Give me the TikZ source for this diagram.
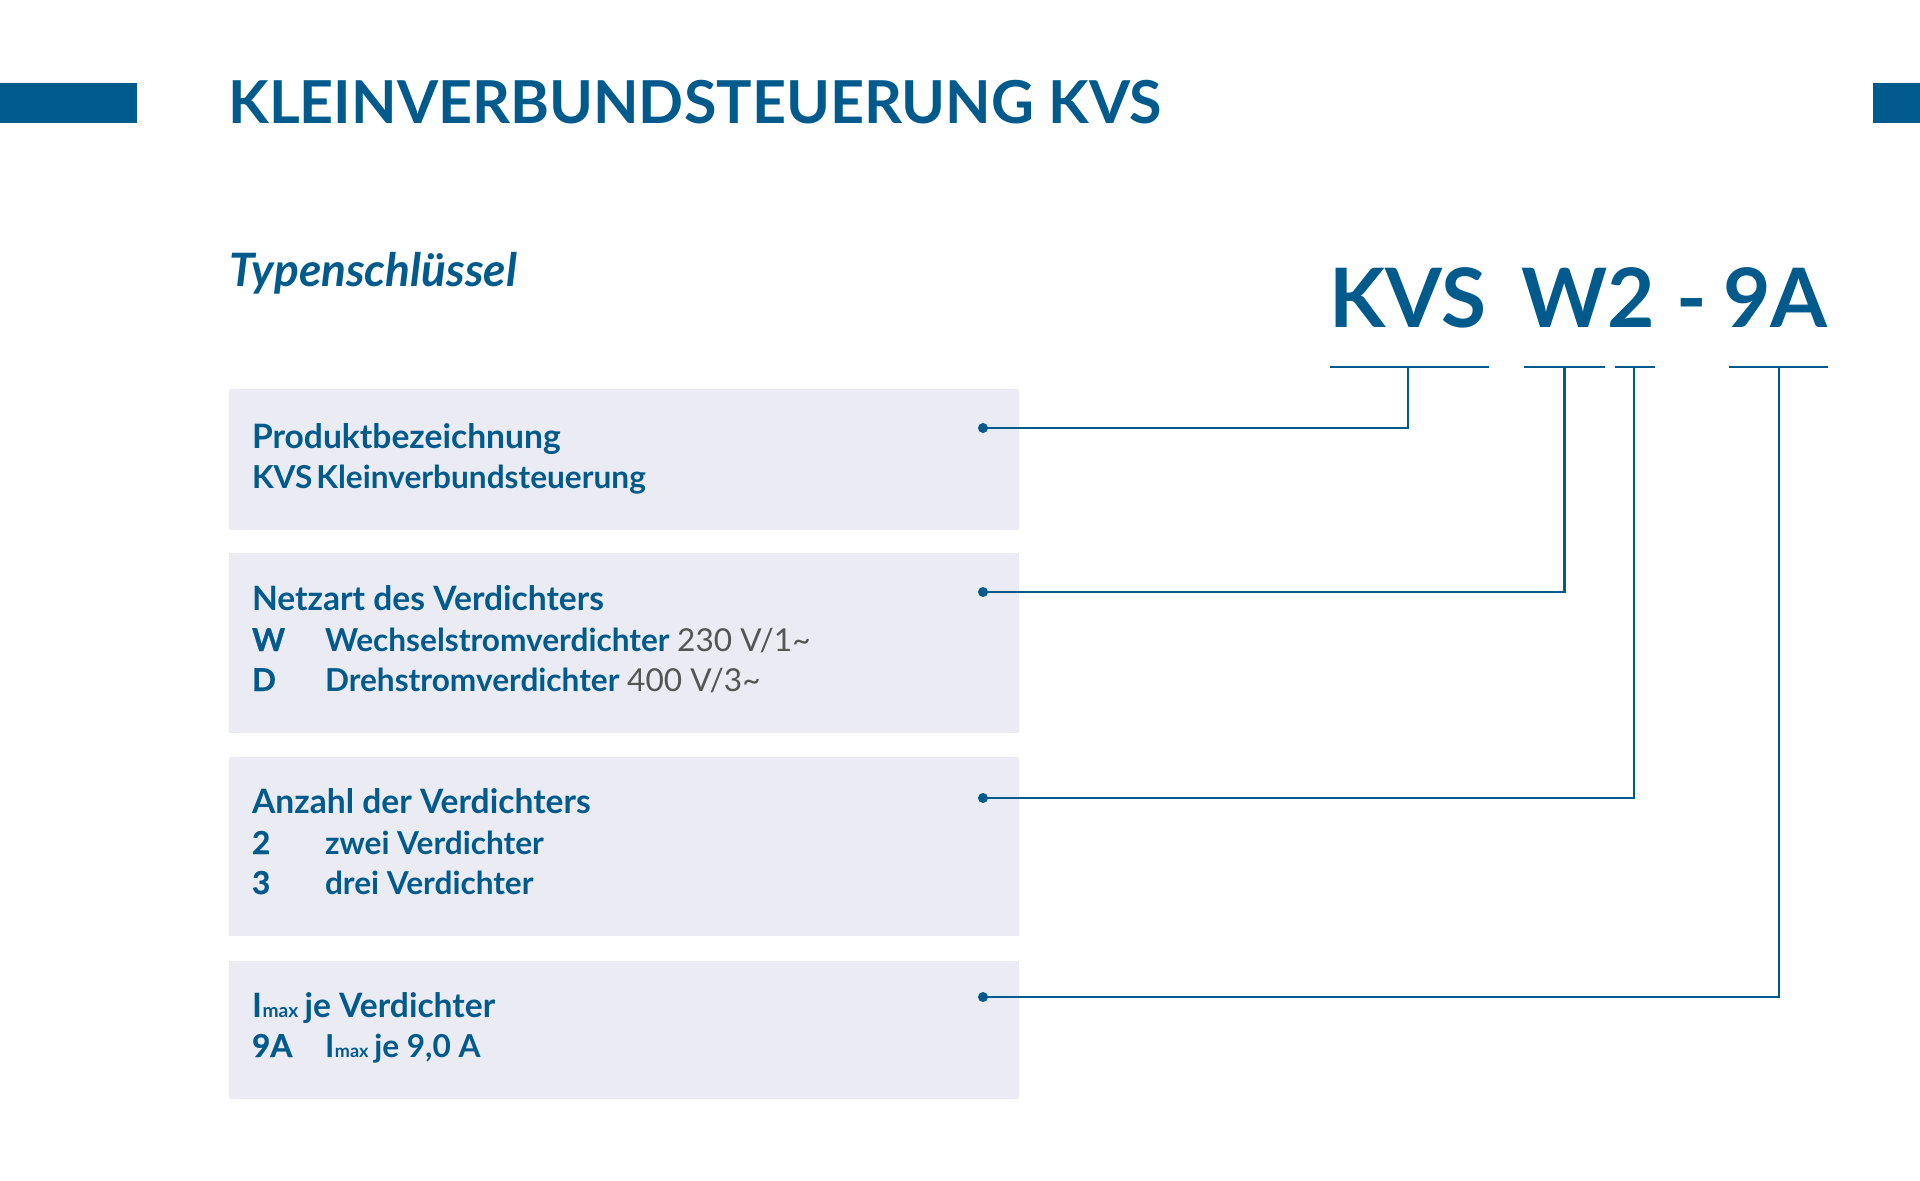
\documentclass[tikz,border=0pt]{standalone}
\usepackage{fontspec}
\setmainfont{Lato}
\newfontface\kkeyfont[FakeBold=0.7]{Lato Bold}
\definecolor{kblue}{HTML}{005A8C}
\definecolor{kgray}{HTML}{555555}
\definecolor{kbox}{HTML}{EBEBF3}
\newcommand\kImax[1]{I\kern0.3pt{\fontsize{#1}{#1}\selectfont max}}
\tikzset{
  txt/.style={anchor=base west, inner sep=0pt, outer sep=0pt, text=kblue,
    font=\fontsize{15.8pt}{18pt}\selectfont\bfseries},
  headtxt/.style={txt, font=\fontsize{16.8pt}{19pt}\selectfont\bfseries},
  keytxt/.style={txt, font=\fontsize{15.8pt}{18pt}\selectfont\kkeyfont},
  panel/.style={fill=kbox, draw=none},
  dotnode/.style={circle, fill=kblue, inner sep=0pt, minimum size=5pt},
  conn/.style={draw=kblue, line width=1.35pt},
  uline/.style={draw=kblue, line width=1.4pt},
  codetxt/.style={anchor=base west, inner sep=0pt, text=kblue,
    font=\fontsize{41pt}{48pt}\selectfont\bfseries},
}
\begin{document}
\begin{tikzpicture}[x=0.5pt,y=-0.5pt]
\useasboundingbox (0,0) rectangle (1920,1180);
% header bars
\fill[kblue] (0,83) rectangle (137,123);
\fill[kblue] (1873,83) rectangle (1920,123);
\node[anchor=base west, inner sep=0pt, text=kblue,
  font=\fontsize{29.6pt}{32pt}\selectfont\bfseries] (title) at (228,123) {KLEINVERBUNDSTEUERUNG KVS};
\node[anchor=base west, inner sep=0pt, text=kblue,
  font=\fontsize{23pt}{28pt}\selectfont\bfseries\itshape] (sub) at (229,286) {Typenschlüssel};
% code
\node[codetxt] (cKVS) at (1329,327) {KVS};
\node[codetxt] (cW2) at (1521,327) {W2};
\node[codetxt] (cdash) at (1676,327) {-};
\node[codetxt] (c9A) at (1723,327) {9A};
% underlines
\coordinate (j1) at (1408,367);
\coordinate (j2) at (1564.5,367);
\coordinate (j3) at (1634,367);
\coordinate (j4) at (1779,367);
\draw[uline] (1330,367) -- (1489,367);
\draw[uline] (1524,367) -- (1604.5,367);
\draw[uline] (1615,367) -- (1655,367);
\draw[uline] (1729,367) -- (1828,367);
% panels
\fill[panel] (228.5,389) rectangle (1019,530);
\fill[panel] (228.5,553) rectangle (1019,733);
\fill[panel] (228.5,757) rectangle (1019,936);
\fill[panel] (228.5,961) rectangle (1019,1099);
% panel 1
\node[headtxt] (p1a) at (252,448) {Produktbezeichnung};
\node[txt] (p1b) at (252,488) {KVS\hspace{2pt}Kleinverbundsteuerung};
% panel 2
\node[headtxt] (p2a) at (252,610) {Netzart des Verdichters};
\node[keytxt] (p2k1) at (252,651) {W};
\node[txt] (p2v1) at (325,651) {Wechselstromverdichter {\mdseries\color{kgray}230 V/1\textasciitilde}};
\node[keytxt] (p2k2) at (252,691) {D};
\node[txt] (p2v2) at (325,691) {Drehstromverdichter {\mdseries\color{kgray}400 V/3\textasciitilde}};
% panel 3
\node[headtxt] (p3a) at (252,813) {Anzahl der Verdichters};
\node[keytxt] (p3k1) at (252,854) {2};
\node[txt] (p3v1) at (325,854) {zwei Verdichter};
\node[keytxt] (p3k2) at (252,894) {3};
\node[txt] (p3v2) at (325,894) {drei Verdichter};
% panel 4
\node[headtxt] (p4a) at (252,1017) {\kImax{9.6pt}\kern-1pt{} je Verdichter};
\node[keytxt] (p4k1) at (252,1057) {9A};
\node[txt] (p4v1) at (325,1057) {\kImax{9pt}\kern-1pt{} je 9,0 A};
% dots and connectors
\node[dotnode] (d1) at (983,428) {};
\node[dotnode] (d2) at (983,592) {};
\node[dotnode] (d3) at (983,798) {};
\node[dotnode] (d4) at (983,997) {};
\draw[conn] (d1.center) -| (j1);
\draw[conn] (d2.center) -| (j2);
\draw[conn] (d3.center) -| (j3);
\draw[conn] (d4.center) -| (j4);
\end{tikzpicture}
\end{document}
